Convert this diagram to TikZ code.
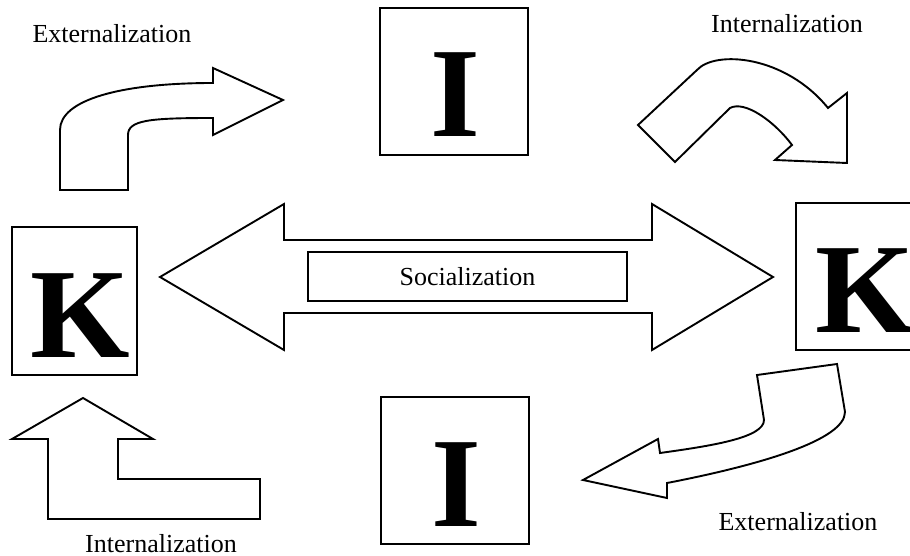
\documentclass[tikz,border=0pt]{standalone}
\usepackage{fontspec}
\setmainfont{Liberation Serif}
\begin{document}
\begin{tikzpicture}[x=1pt,y=-1pt,
  outline/.style={draw, line width=1.9pt, line join=miter, fill=white},
  letterbox/.style={draw, line width=1.9pt, inner sep=0pt, minimum width=#1},
  letterbox/.default=148pt,
  bigletter/.style={anchor=base, inner sep=0pt, font=\fontsize{128}{128}\selectfont\bfseries},
  caption/.style={anchor=base, inner sep=0pt, font=\fontsize{26}{26}\selectfont}]
\clip (0,0) rectangle (910,556);
\fill[white] (0,0) rectangle (910,556);

% letter boxes
\node[letterbox, minimum height=147pt] (Itop) at (454,81.5) {};
\node[bigletter] (Itopl) at (455.5,137) {I};
\node[letterbox, minimum height=147pt] (Ibot) at (455,470.5) {};
\node[bigletter] (Ibotl) at (456.5,526) {I};
\node[letterbox=125pt, minimum height=148pt] (Kleft) at (74.5,301) {};
\node[bigletter] (Kleftl) at (80,357) {K};
\node[letterbox=125pt, minimum height=147pt] (Kright) at (858.5,276.5) {};
\node[bigletter] (Krightl) at (865,332) {K};

% socialization double arrow
\draw[outline] (160,277) -- (284,204) -- (284,240) -- (652,240) -- (652,204)
  -- (773,277) -- (652,350) -- (652,313) -- (284,313) -- (284,350) -- cycle;
\node[draw, line width=1.9pt, inner sep=0pt, minimum width=319pt, minimum height=49pt,
  font=\fontsize{26}{26}\selectfont] (soc) at (467.5,276.5) {Socialization};

% top-left bent arrow
\draw[outline] (60,190) -- (60,130) .. controls (60,100) and (120,83) .. (213,83)
  -- (213,68) -- (283,100) -- (213,135) -- (213,118)
  .. controls (150,118) and (128,120) .. (128,135) -- (128,190) -- cycle;
\node[caption] (ext1) at (112,43) {Externalization};

% top-right curved arrow
\draw[outline] (638,125) -- (697,70) .. controls (715,50) and (785,55) .. (828,108)
  -- (847,93) -- (847,163) -- (775,160) -- (792,145)
  .. controls (775,122) and (745,100) .. (730,108) -- (675,162) -- cycle;
\node[caption] (int1) at (787,33) {Internalization};

% bottom-right curved arrow
\draw[outline] (757,375) -- (837,364) -- (845,412)
  .. controls (845,440) and (760,465) .. (667,483)
  -- (667,498) -- (583,480) -- (658,439) -- (660,453)
  .. controls (710,446) and (764,438) .. (764,420) -- cycle;
\node[caption] (ext2) at (798,530) {Externalization};

% bottom-left bent arrow
\draw[outline] (48,439) -- (12,439) -- (83,398) -- (153,439) -- (118,439)
  -- (118,479) -- (260,479) -- (260,519) -- (48,519) -- cycle;
\node[caption] (int2) at (161,552) {Internalization};
\end{tikzpicture}
\end{document}
